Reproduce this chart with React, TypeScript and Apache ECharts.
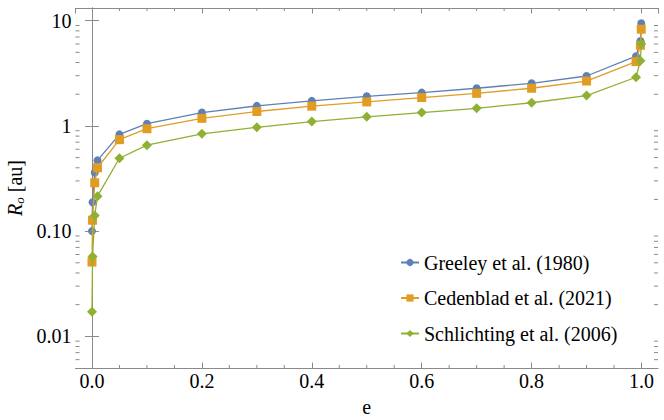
import React, { useEffect, useRef } from "react";
import * as echarts from "echarts";

const E_VALUES = [0, 0.001, 0.005, 0.01, 0.05, 0.1, 0.2, 0.3, 0.4, 0.5, 0.6, 0.7, 0.8, 0.9, 0.99, 0.998, 0.9995];
const GREELEY = [0.1, 0.188, 0.36, 0.47, 0.83, 1.05, 1.34, 1.55, 1.73, 1.91, 2.07, 2.28, 2.54, 2.98, 4.6, 6.4, 9.45];
const CEDENBLAD = [0.0508, 0.127, 0.288, 0.4, 0.74, 0.94, 1.18, 1.37, 1.54, 1.69, 1.86, 2.04, 2.28, 2.67, 4.08, 5.84, 8.3];
const SCHLICHTING = [0.0171, 0.0575, 0.141, 0.215, 0.493, 0.656, 0.84, 0.97, 1.1, 1.22, 1.34, 1.47, 1.66, 1.94, 2.9, 4.17, 6.0];
const SERIES_NAMES = ["Greeley et al. (1980)", "Cedenblad et al. (2021)", "Schlichting et al. (2006)"];

const X_MINOR = [0.05, 0.1, 0.15, 0.25, 0.3, 0.35, 0.45, 0.5, 0.55, 0.65, 0.7, 0.75, 0.85, 0.9, 0.95];
const Y_MINOR = [
  0.006, 0.007, 0.008, 0.009,
  0.02, 0.03, 0.04, 0.05, 0.06, 0.07, 0.08, 0.09,
  0.2, 0.3, 0.4, 0.5, 0.6, 0.7, 0.8, 0.9,
  2, 3, 4, 5, 6, 7, 8, 9,
];

const X_MIN = -0.03;
const X_MAX = 1.03;
const Y_MIN = 0.005;
const Y_MAX = 13.2;

const FONT = "'Liberation Serif', 'Times New Roman', serif";
const FRAME = "#8a8a8a";
const COLORS = ["#5E81B5", "#E19C24", "#8FB032"];
const SYMBOLS = ["circle", "rect", "diamond"];
const SIZES = [8, 9, 10];

export default function App() {
  const ref = useRef<HTMLDivElement>(null);
  useEffect(() => {
    if (!ref.current) return;
    const chart = echarts.init(ref.current, null, { renderer: "svg" });
    const dataSets = [GREELEY, CEDENBLAD, SCHLICHTING];
    const minorData: number[][] = [
      ...Y_MINOR.map((v) => [X_MIN, v, 0]),
      ...X_MINOR.map((v) => [v, Y_MIN, 1]),
    ];
    const axisLine = { show: true, lineStyle: { color: FRAME, width: 1 } };
    const baseX = {
      type: "value",
      min: X_MIN,
      max: X_MAX,
      splitNumber: 5,
      splitLine: { show: false },
      axisLine,
      axisTick: { show: true, inside: true, length: 5.5, lineStyle: { color: FRAME } },
    };
    const baseY = {
      type: "log",
      logBase: 10,
      min: Y_MIN,
      max: Y_MAX,
      splitLine: { show: false },
      axisLine,
      axisTick: { show: true, inside: true, length: 7, lineStyle: { color: FRAME } },
    };
    chart.setOption({
      animation: false,
      textStyle: { fontFamily: FONT },
      grid: { left: 75.5, right: 6, top: 8, bottom: 52, containLabel: false, outerBoundsMode: "none" },
      legend: {
        data: SERIES_NAMES,
        orient: "vertical",
        left: 400,
        top: 252.5,
        padding: 0,
        itemWidth: 18,
        itemHeight: 9,
        itemGap: 15.5,
        textStyle: { fontFamily: FONT, fontSize: 20, color: "#000", lineHeight: 20 },
      },
      xAxis: [
        {
          ...baseX,
          position: "bottom",
          name: "e",
          nameLocation: "middle",
          nameGap: 29,
          nameTextStyle: { fontFamily: FONT, fontSize: 20, color: "#000" },
          axisLabel: {
            fontFamily: FONT,
            fontSize: 20,
            color: "#000",
            margin: 3,
            showMinLabel: false,
            showMaxLabel: false,
            formatter: (v: number) => v.toFixed(1),
          },
        },
        { ...baseX, position: "top", axisLabel: { show: false } },
      ],
      yAxis: [
        {
          ...baseY,
          position: "left",
          name: "{i|R}{s|o} [au]",
          nameLocation: "middle",
          nameGap: 40,
          nameRotate: 90,
          nameTextStyle: {
            fontFamily: FONT,
            fontSize: 20,
            color: "#000",
            rich: {
              i: { fontFamily: FONT, fontSize: 20, fontStyle: "italic", color: "#000" },
              s: { fontFamily: FONT, fontSize: 13, fontStyle: "italic", color: "#000", padding: [8, 0, 0, 0] },
            },
          },
          axisLabel: {
            fontFamily: FONT,
            fontSize: 20,
            color: "#000",
            margin: 4,
            showMinLabel: false,
            showMaxLabel: false,
            formatter: (v: number) => (v >= 1 ? String(Math.round(v)) : v.toFixed(2)),
          },
        },
        { ...baseY, position: "right", axisLabel: { show: false } },
      ],
      series: [
        ...dataSets.map((arr, k) => ({
          name: SERIES_NAMES[k],
          type: "line",
          xAxisIndex: 0,
          yAxisIndex: 0,
          data: E_VALUES.map((e, i) => [e, arr[i]]),
          symbol: SYMBOLS[k],
          symbolSize: SIZES[k],
          showSymbol: true,
          color: COLORS[k],
          itemStyle: { color: COLORS[k] },
          lineStyle: { color: COLORS[k], width: 1.3 },
          z: 2 + k,
        })),
        {
          type: "custom",
          xAxisIndex: 0,
          yAxisIndex: 0,
          silent: true,
          clip: false,
          z: 1,
          data: minorData,
          renderItem: (params: any, api: any) => {
            const v0 = api.value(0);
            const v1 = api.value(1);
            const kind = api.value(2);
            const style = { stroke: FRAME, lineWidth: 1 };
            if (kind === 0) {
              const p = api.coord([X_MIN, v1]);
              const q = api.coord([X_MAX, v1]);
              return {
                type: "group",
                children: [
                  { type: "line", shape: { x1: p[0], y1: p[1], x2: p[0] + 4, y2: p[1] }, style },
                  { type: "line", shape: { x1: q[0] - 4, y1: q[1], x2: q[0], y2: q[1] }, style },
                ],
              };
            }
            const p = api.coord([v0, Y_MIN]);
            const q = api.coord([v0, Y_MAX]);
            return {
              type: "group",
              children: [
                { type: "line", shape: { x1: p[0], y1: p[1], x2: p[0], y2: p[1] - 3 }, style },
                { type: "line", shape: { x1: q[0], y1: q[1], x2: q[0], y2: q[1] + 3 }, style },
              ],
            };
          },
        },
      ],
    });
    return () => chart.dispose();
  }, []);
  return (
    <div
      ref={ref}
      style={{ position: "fixed", left: 0, top: 0, width: 664, height: 420, background: "#fff" }}
    />
  );
}
